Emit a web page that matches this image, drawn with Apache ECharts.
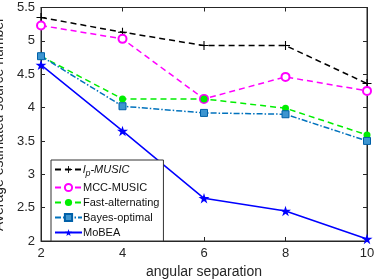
<!DOCTYPE html>
<html><head><meta charset="utf-8">
<script src="https://cdn.jsdelivr.net/npm/echarts@6/dist/echarts.min.js"></script>
<style>html,body{margin:0;padding:0;background:#fff}#c{width:374px;height:280px}</style>
</head><body><div id="c"></div>
<script>
const categories = [2, 4, 6, 8, 10];
const lpMusic = [5.35, 5.13, 4.93, 4.93, 4.36];
const mccMusic = [5.23, 5.03, 4.13, 4.46, 4.25];
const fastAlt = [4.77, 4.13, 4.13, 3.99, 3.59];
const bayesOpt = [4.77, 4.02, 3.92, 3.90, 3.50];
const mobea = [4.64, 3.65, 2.64, 2.45, 2.03];
const seriesNames = ['lp-MUSIC', 'MCC-MUSIC', 'Fast-alternating', 'Bayes-optimal', 'MoBEA'];
const xTicks = [2, 4, 6, 8, 10];
const yTicks = [2, 2.5, 3, 3.5, 4, 4.5, 5, 5.5];

const plusPath = 'path://M4.4,0H5.6V4.4H10V5.6H5.6V10H4.4V5.6H0V4.4H4.4Z';
const starPath = 'path://M50,0L61,35L98,35L68,57L79,91L50,70L21,91L32,57L2,35L39,35Z';
const font = 'Liberation Sans, Arial, sans-serif';
const axisColor = '#262626';

function pairs(vals){ return categories.map((x,i)=>[x, vals[i]]); }

const chart = echarts.init(document.getElementById('c'));
const base = {type:'line', symbolKeepAspect:true, animation:false};
chart.setOption({
  animation:false,
  textStyle:{fontFamily:font},
  grid:{left:41, right:7, top:7.5, bottom:39, show:true, borderColor:axisColor, borderWidth:1,
        containLabel:false, outerBoundsMode:'none'},
  xAxis:[{
    type:'value', min:2, max:10, interval:2, position:'bottom',
    axisLine:{lineStyle:{color:axisColor}},
    axisTick:{inside:true, length:4, lineStyle:{color:axisColor}},
    axisLabel:{color:'#262626', fontSize:13, margin:6, fontFamily:font, formatter:v=>String(v)},
    splitLine:{show:false},
    name:'angular separation', nameLocation:'middle', nameGap:22,
    nameTextStyle:{color:'#262626', fontSize:14, fontFamily:font}
  },{
    type:'value', min:2, max:10, interval:2, position:'top',
    axisLine:{lineStyle:{color:axisColor}},
    axisTick:{inside:true, length:4, lineStyle:{color:axisColor}},
    axisLabel:{show:false}, splitLine:{show:false}
  }],
  yAxis:[{
    type:'value', min:2, max:5.5, interval:0.5, position:'left',
    axisLine:{show:true, lineStyle:{color:axisColor}},
    axisTick:{show:true, inside:true, length:4, lineStyle:{color:axisColor}},
    axisLabel:{color:'#262626', fontSize:13, margin:6, fontFamily:font,
      formatter:v=>String(v)},
    splitLine:{show:false},
    name:'Average estimated source number', nameLocation:'middle', nameGap:25,
    nameTextStyle:{color:'#262626', fontSize:14, fontFamily:font}
  },{
    type:'value', min:2, max:5.5, interval:0.5, position:'right',
    axisLine:{show:true, lineStyle:{color:axisColor}},
    axisTick:{show:true, inside:true, length:4, lineStyle:{color:axisColor}},
    axisLabel:{show:false}, splitLine:{show:false}
  }],
  legend:{
    left:51, top:160, orient:'vertical', itemGap:4, itemWidth:27, itemHeight:9,
    padding:[4,4,3,3], borderColor:'#333', borderWidth:1, backgroundColor:'#fff',
    data:seriesNames,
    textStyle:{fontSize:11, color:'#111', fontFamily:font, padding:[0,0,0,-4],
      rich:{i:{fontStyle:'italic', fontSize:11, fontFamily:font},
            s:{fontStyle:'italic', fontSize:9, fontFamily:font, verticalAlign:'bottom', padding:[8,0,0,0]}}},
    formatter:n=> n==='lp-MUSIC' ? '{i|l}{s|p}{i|-MUSIC}' : n
  },
  series:[
    Object.assign({}, base, {name:seriesNames[0], data:pairs(lpMusic), symbol:plusPath, symbolSize:9,
      lineStyle:{color:'#000', type:[6,4], width:1.5}, itemStyle:{color:'#000'}}),
    Object.assign({}, base, {name:seriesNames[1], data:pairs(mccMusic), symbol:'emptyCircle', symbolSize:8,
      lineStyle:{color:'#ff00ff', type:[6,4], width:1.5}, itemStyle:{color:'#ff00ff', borderWidth:1.3}}),
    Object.assign({}, base, {name:seriesNames[2], data:pairs(fastAlt), symbol:'circle', symbolSize:7,
      lineStyle:{color:'#00ee00', type:[6,4], width:1.5}, itemStyle:{color:'#00ee00'}}),
    Object.assign({}, base, {name:seriesNames[3], data:pairs(bayesOpt), symbol:'rect', symbolSize:7,
      lineStyle:{color:'#0072bd', type:[6,2,1.5,2], width:1.5}, itemStyle:{color:'#3d95d0', borderColor:'#0060a8', borderWidth:1}}),
    Object.assign({}, base, {name:seriesNames[4], data:pairs(mobea), symbol:starPath, symbolSize:11,
      lineStyle:{color:'#0000ff', type:'solid', width:1.5}, itemStyle:{color:'#0000ff'}})
  ]
});
</script></body></html>
